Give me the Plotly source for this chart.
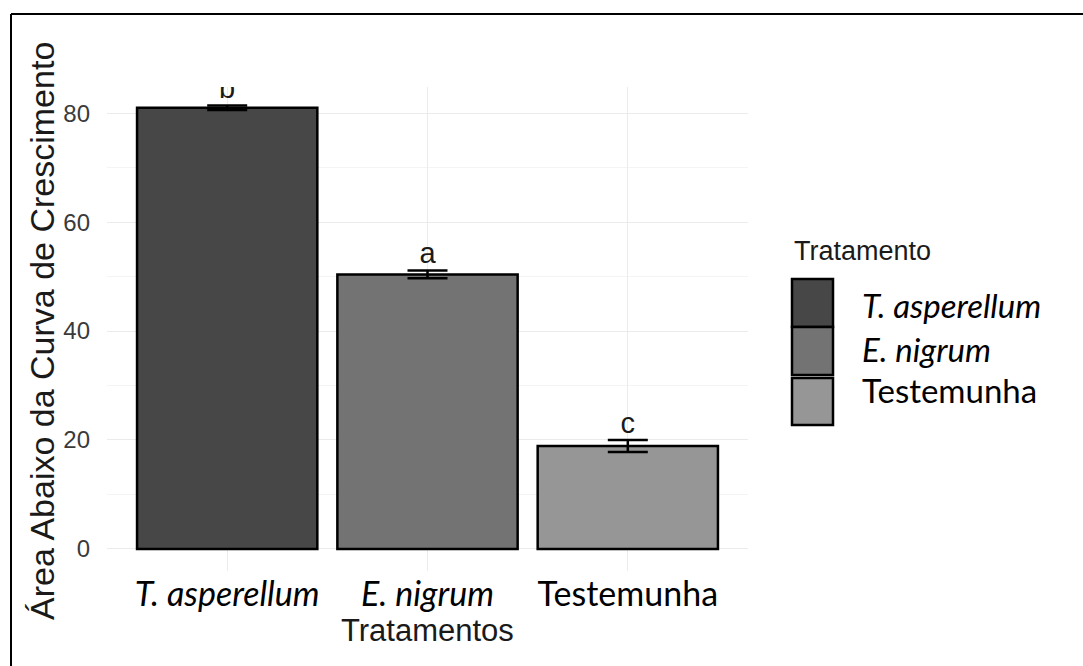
import plotly.graph_objects as go

# ---- data ----
categories = ["T. asperellum", "E. nigrum", "Testemunha"]
tick_labels = ["<i>T. asperellum</i>", "<i>E. nigrum</i>", "Testemunha"]
means = [81.0, 50.4, 18.9]
se = [0.4, 0.7, 1.1]
letters = ["b", "a", "c"]
fills = ["#474747", "#737373", "#969696"]
y_ticks = [0, 20, 40, 60, 80]

W, H = 1083, 666
L, R, T, B = 107, 748, 87, 571  # panel in px


def px_x(p):
    return (p - L) / (R - L)


def px_y(p):
    return (B - p) / (B - T)


fig = go.Figure()
fig.add_trace(go.Bar(
    x=categories, y=means, width=0.9,
    marker=dict(color=fills, line=dict(color="black", width=2.5)),
    error_y=dict(type="data", array=se, visible=True, color="black",
                 thickness=2.5, width=20),
    showlegend=False, hoverinfo="skip",
))
fig.add_trace(go.Scatter(
    x=categories, y=[m + s for m, s in zip(means, se)], mode="text",
    text=letters, textposition="top center", cliponaxis=True,
    textfont=dict(family="Liberation Sans, Arial", size=29, color="#1a1a1a"),
    showlegend=False, hoverinfo="skip",
))

fig.update_layout(
    width=W, height=H,
    margin=dict(l=L, r=W - R, t=T, b=H - B, pad=0),
    plot_bgcolor="white", paper_bgcolor="white",
    bargap=0.1,
    xaxis=dict(
        tickmode="array", tickvals=categories, ticktext=tick_labels,
        range=[-0.6, 2.6], showgrid=True, gridcolor="#ebebeb", gridwidth=1.2,
        zeroline=False, showline=False, ticks="",
        tickfont=dict(family="Lato, Carlito, sans-serif", size=34, color="black"),
        ticklabelstandoff=0,
    ),
    yaxis=dict(
        range=[-4.05, 84.8], tickmode="array", tickvals=y_ticks,
        showgrid=True, gridcolor="#ebebeb", gridwidth=1.2,
        minor=dict(dtick=10, tick0=0, showgrid=True, gridcolor="#f4f4f4", gridwidth=1),
        zeroline=False, showline=False, ticks="",
        tickfont=dict(family="Liberation Sans, Arial", size=24, color="#3a3a3a"),
        ticklabelstandoff=16,
    ),
    font=dict(family="Liberation Sans, Arial"),
)

# axis titles
fig.add_annotation(
    text="Área Abaixo da Curva de Crescimento", textangle=-90,
    xref="paper", yref="paper", x=px_x(42), y=px_y(331),
    xanchor="center", yanchor="middle", showarrow=False,
    font=dict(family="Liberation Sans, Arial", size=34, color="#1a1a1a"),
)
fig.add_annotation(
    text="Tratamentos",
    xref="paper", yref="paper", x=px_x(427), y=px_y(630),
    xanchor="center", yanchor="middle", showarrow=False,
    font=dict(family="Liberation Sans, Arial", size=31, color="#1a1a1a"),
)

# legend (drawn manually to match large keys)
fig.add_annotation(
    text="Tratamento",
    xref="paper", yref="paper", x=px_x(792), y=px_y(251),
    xanchor="left", yanchor="middle", showarrow=False,
    font=dict(family="Liberation Sans, Arial", size=27, color="#1a1a1a"),
)
key_tops = [279, 327, 378]
key_bots = [327, 375, 425]
label_y = [305, 349, 390]
for i in range(len(categories)):
    fig.add_shape(
        type="rect", xref="paper", yref="paper",
        x0=px_x(792), x1=px_x(833), y0=px_y(key_bots[i]), y1=px_y(key_tops[i]),
        fillcolor=fills[i], line=dict(color="black", width=2.5),
    )
    fig.add_annotation(
        text=tick_labels[i],
        xref="paper", yref="paper", x=px_x(860), y=px_y(label_y[i]),
        xanchor="left", yanchor="middle", showarrow=False,
        font=dict(family="Lato, Carlito, sans-serif", size=33, color="black"),
    )

# outer border (only top and left edges are visible in the reference)
fig.add_shape(
    type="line", xref="paper", yref="paper",
    x0=px_x(11), x1=px_x(W), y0=px_y(14), y1=px_y(14),
    line=dict(color="black", width=2), layer="above",
)
fig.add_shape(
    type="line", xref="paper", yref="paper",
    x0=px_x(11), x1=px_x(11), y0=px_y(14), y1=px_y(H),
    line=dict(color="black", width=2), layer="above",
)

fig.write_html("out.html", config={"displayModeBar": False},
               post_script="document.body.style.margin='0px';")
